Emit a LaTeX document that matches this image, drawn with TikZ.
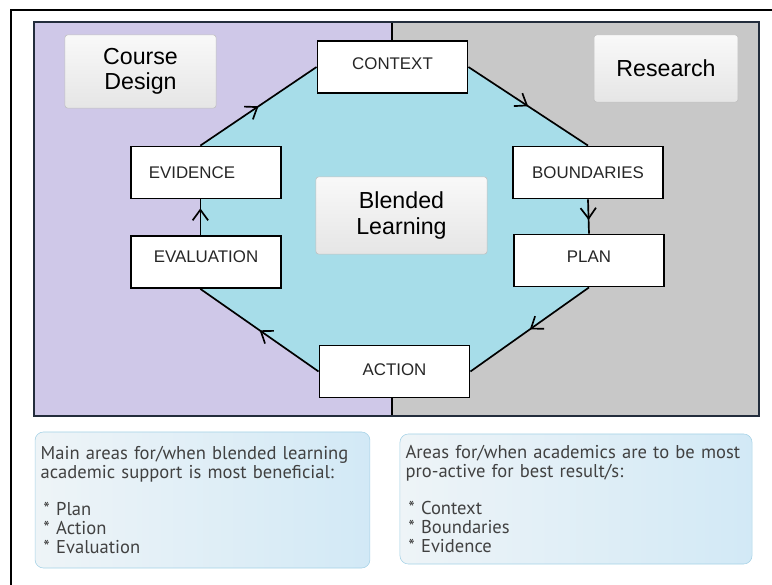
\documentclass[tikz,border=0pt]{standalone}
\usepackage{fontspec}
\setmainfont{Liberation Sans}
\newfontfamily\notefont{PT Sans}
\usepackage{tikz}
\usetikzlibrary{arrows.meta, backgrounds, decorations.markings}

\definecolor{designbg}{RGB}{207,200,232}
\definecolor{researchbg}{RGB}{200,200,200}
\definecolor{cyclebg}{RGB}{167,221,233}
\definecolor{panelline}{RGB}{35,45,60}
\definecolor{noteline}{RGB}{165,210,230}
\definecolor{noteblue}{RGB}{210,233,246}
\definecolor{notepale}{RGB}{238,244,247}
\definecolor{notetext}{RGB}{65,65,65}

\tikzset{
  stepbox/.style={draw=black, line width=1.3pt, fill=white, minimum width=3.75cm, minimum height=1.3cm, inner sep=0pt, text=black!85, font=\fontsize{12}{14}\selectfont},
  titlebox/.style={draw=gray!50, rounded corners=2pt, top color=gray!5, bottom color=gray!20, align=center, inner sep=0pt, font=\fontsize{16.5}{18}\selectfont},
  notebox/.style={draw=noteline, rounded corners=6pt, left color=notepale, right color=noteblue, align=left, inner sep=4pt, text=notetext, font=\notefont\fontsize{13.2}{13.5}\selectfont},
  flow/.style={line width=1.2pt, postaction={decorate}, decoration={markings, mark=at position #1 with {\arrow{Straight Barb[length=7.5pt,width=11pt]}}}},
}

\begin{document}
\begin{tikzpicture}[x=0.025cm, y=-0.025cm]
    \useasboundingbox (0,0) rectangle (772,585);

    % Cycle steps
    \node[stepbox] (context) at (392.5,67) {\raisebox{5pt}{CONTEXT}};
    \node[stepbox] (boundaries) at (588,172.5) {BOUNDARIES};
    \node[stepbox] (plan) at (589,260.5) {\raisebox{5pt}{PLAN}};
    \node[stepbox] (action) at (394.5,371.5) {\raisebox{2pt}{ACTION}};
    \node[stepbox] (evaluation) at (206,262) {\raisebox{7pt}{EVALUATION}};
    \node[stepbox] (evidence) at (206,172.5) {\hspace*{-20pt}EVIDENCE};

    % Titles
    \node[titlebox, minimum width=3.78cm, minimum height=1.83cm] (design) at (140.5,71.5) {Course\\Design};
    \node[titlebox, minimum width=3.6cm, minimum height=1.68cm] (research) at (666,68.5) {Research};
    \node[titlebox, minimum width=4.28cm, minimum height=1.93cm] (blended) at (401.5,215.5) {Blended\\Learning};

    % Panels and cycle area
    \begin{scope}[on background layer]
        \fill[designbg] (34,22) rectangle (392,416);
        \fill[researchbg] (392,22) rectangle (759,416);
        \draw[line width=1pt] (392,22) -- (392,416);
        \fill[cyclebg] (context.west) -- (context.east) -- (boundaries.north) -- (plan.south)
            -- (action.east) -- (action.west) -- ([xshift=-4pt]evaluation.south) -- ([xshift=-4pt]evidence.north) -- cycle;
        \draw[panelline, line width=1.2pt] (34,22) rectangle (759,416);
    \end{scope}

    % Flow around the cycle
    \draw[flow=0.75] ([xshift=-4pt]evaluation.north) -- ([xshift=-4pt]evidence.south);
    \draw[flow=0.5] ([xshift=-4pt]evidence.north) -- (context.west);
    \draw[flow=0.5] (context.east) -- (boundaries.north);
    \draw[flow=0.6] (boundaries.south) -- (plan.north);
    \draw[flow=0.5] (plan.south) -- (action.east);
    \draw[flow=0.5] (action.west) -- ([xshift=-4pt]evaluation.south);

    % Notes
    \node[notebox, text width=8.09cm, minimum height=3.4cm] (supportnote) at (202.5,500)
        {Main areas for/when blended learning\\ academic support is most beneficial:\\[13.5pt]
         \hspace{2pt}* Plan\\ \hspace{2pt}* Action\\ \hspace{2pt}* Evaluation};
    \node[notebox, text width=8.52cm, minimum height=3.25cm] (activenote) at (576,499)
        {Areas for/when academics are to be most\\ pro-active for best result/s:\\[13.5pt]
         \hspace{2pt}* Context\\ \hspace{2pt}* Boundaries\\ \hspace{2pt}* Evidence};

    % Frame
    \draw[line width=1.5pt] (11,10) rectangle (800,620);
\end{tikzpicture}
\end{document}
